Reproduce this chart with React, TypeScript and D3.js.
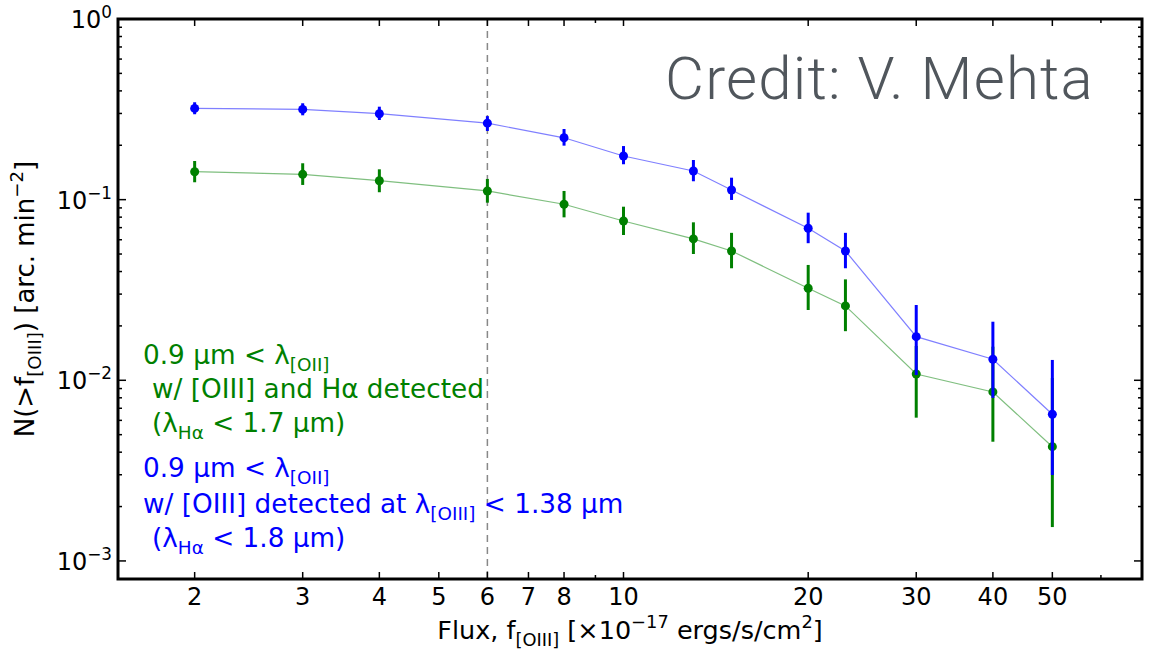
import React, { useEffect, useRef } from 'react';
import * as d3 from 'd3';

// flux bins (x 10^-17 ergs/s/cm^2)
const fluxBins = [2, 3, 4, 6, 8, 10, 13, 15, 20, 23, 30, 40, 50];

// blue: [OIII] detected at lambda < 1.38 um
const blueN = [0.320, 0.316, 0.299, 0.265, 0.220, 0.1745, 0.144, 0.1131, 0.0694, 0.0520, 0.01744, 0.01308, 0.00649];
const blueHi = [0.346, 0.3416, 0.327, 0.290, 0.246, 0.198, 0.1658, 0.1323, 0.0847, 0.0655, 0.0261, 0.0211, 0.01296];
const blueLo = [0.297, 0.293, 0.276, 0.240, 0.199, 0.157, 0.1264, 0.0996, 0.0574, 0.0417, 0.0107, 0.00799, 0.00299];

// green: [OIII] and Halpha detected
const greenN = [0.1428, 0.1381, 0.1273, 0.1117, 0.0943, 0.0762, 0.0606, 0.0520, 0.0323, 0.0258, 0.01084, 0.00862, 0.00429];
const greenHi = [0.1637, 0.159, 0.1472, 0.1302, 0.1117, 0.0914, 0.0749, 0.0655, 0.0435, 0.0362, 0.0155, 0.01535, 0.0103];
const greenLo = [0.1248, 0.1206, 0.1099, 0.0962, 0.0798, 0.0637, 0.0500, 0.0417, 0.0245, 0.0187, 0.00621, 0.00457, 0.00154];

const xTickLabels = [2, 3, 4, 5, 6, 7, 8, 10, 20, 30, 40, 50];
const xMinorTicks = [9, 60];
const yDecades = [-3, -2, -1, 0];
const cutFlux = 6;

const FONT = "'DejaVu Sans', sans-serif";
const LABEL_SIZE = 25.5;
const NOTE_SIZE = 26.3;

type Part = { t: string; s?: 'sub' | 'sup' };

// text with sub/superscripts as tspans
function addRich(text: any, parts: Part[], size: number) {
  let off = 0;
  parts.forEach(p => {
    const target = p.s === 'sub' ? size * 0.28 : p.s === 'sup' ? -size * 0.42 : 0;
    text.append('tspan')
      .attr('dy', target - off)
      .attr('font-size', p.s ? size * 0.7 : size)
      .text(p.t);
    off = target;
  });
}

const App = () => {
  const svgRef = useRef<SVGSVGElement>(null);

  useEffect(() => {
    const svg = d3.select(svgRef.current);
    svg.selectAll('*').remove();

    const left = 118, right = 1142, top = 19, bottom = 579;
    const x = d3.scaleLog().domain([1.5, 70]).range([left, right]);
    const y = d3.scaleLog().domain([Math.pow(10, -3.1), 1]).range([bottom, top]);

    svg.append('rect').attr('width', 1149).attr('height', 656).attr('fill', '#fff');

    // dashed cut line
    svg.append('line')
      .attr('x1', x(cutFlux)).attr('x2', x(cutFlux))
      .attr('y1', top).attr('y2', bottom)
      .attr('stroke', '#888').attr('stroke-width', 1.5)
      .attr('stroke-dasharray', '7,5');

    function drawSeries(vals: number[], lo: number[], hi: number[], color: string) {
      const g = svg.append('g');
      const line = d3.line<number>().x((d, i) => x(fluxBins[i])).y(d => y(d));
      g.append('path').attr('d', line(vals))
        .attr('fill', 'none').attr('stroke', color)
        .attr('stroke-opacity', 0.5).attr('stroke-width', 1.2);
      g.selectAll('line.err').data(vals).enter().append('line')
        .attr('x1', (d, i) => x(fluxBins[i])).attr('x2', (d, i) => x(fluxBins[i]))
        .attr('y1', (d, i) => y(lo[i])).attr('y2', (d, i) => y(hi[i]))
        .attr('stroke', color).attr('stroke-width', 3);
      g.selectAll('circle').data(vals).enter().append('circle')
        .attr('cx', (d, i) => x(fluxBins[i])).attr('cy', d => y(d))
        .attr('r', 4.5).attr('fill', color);
    }
    drawSeries(greenN, greenLo, greenHi, '#008000');
    drawSeries(blueN, blueLo, blueHi, '#0000ff');

    // frame
    svg.append('rect')
      .attr('x', left).attr('y', top)
      .attr('width', right - left).attr('height', bottom - top)
      .attr('fill', 'none').attr('stroke', '#000').attr('stroke-width', 3);

    const ticks = svg.append('g').attr('stroke', '#000').attr('stroke-width', 1.5);
    // x ticks, inward on bottom and top
    xTickLabels.concat(xMinorTicks).forEach(v => {
      const len = xMinorTicks.includes(v) ? 4 : 7;
      ticks.append('line').attr('x1', x(v)).attr('x2', x(v)).attr('y1', bottom).attr('y2', bottom - len);
      ticks.append('line').attr('x1', x(v)).attr('x2', x(v)).attr('y1', top).attr('y2', top + len);
    });
    // y ticks, inward on left and right
    const [y0, y1] = y.domain();
    yDecades.forEach(e => {
      for (let m = 1; m <= 9; m++) {
        const v = m * Math.pow(10, e);
        if (v < y0 || v > y1) continue;
        const len = m === 1 ? 8 : 4;
        ticks.append('line').attr('x1', left).attr('x2', left + len).attr('y1', y(v)).attr('y2', y(v));
        ticks.append('line').attr('x1', right).attr('x2', right - len).attr('y1', y(v)).attr('y2', y(v));
      }
    });

    // tick labels
    xTickLabels.forEach(v => {
      svg.append('text')
        .attr('x', x(v)).attr('y', 605)
        .attr('text-anchor', 'middle')
        .attr('font-family', FONT).attr('font-size', 24)
        .text(v);
    });
    yDecades.forEach(e => {
      const t = svg.append('text')
        .attr('x', 112).attr('y', y(Math.pow(10, e)) + 9)
        .attr('text-anchor', 'end')
        .attr('font-family', FONT)
        .style('white-space', 'pre');
      addRich(t, [{ t: '10' }, { t: e === 0 ? '0' : '\u2212' + (-e), s: 'sup' }], 24);
    });

    // axis labels
    const xl = svg.append('text')
      .attr('x', (left + right) / 2).attr('y', 639)
      .attr('text-anchor', 'middle').attr('font-family', FONT)
      .style('white-space', 'pre');
    addRich(xl, [
      { t: 'Flux, f' }, { t: '[OIII]', s: 'sub' }, { t: ' [\u00d710' }, { t: '\u221217', s: 'sup' },
      { t: ' ergs/s/cm' }, { t: '2', s: 'sup' }, { t: ']' }
    ], LABEL_SIZE);

    const yl = svg.append('text')
      .attr('transform', `translate(34,${(top + bottom) / 2}) rotate(-90)`)
      .attr('text-anchor', 'middle').attr('font-family', FONT)
      .style('white-space', 'pre');
    addRich(yl, [
      { t: 'N(>f' }, { t: '[OIII]', s: 'sub' }, { t: ') [arc. min' }, { t: '\u22122', s: 'sup' }, { t: ']' }
    ], 26);

    // annotations
    const notes: { x: number; y: number; color: string; parts: Part[] }[] = [
      { x: 143, y: 364, color: '#008000', parts: [{ t: '0.9 \u03bcm < \u03bb' }, { t: '[OII]', s: 'sub' }] },
      { x: 152, y: 398, color: '#008000', parts: [{ t: 'w/ [OIII] and H\u03b1 detected' }] },
      { x: 152, y: 432, color: '#008000', parts: [{ t: '(\u03bb' }, { t: 'H\u03b1', s: 'sub' }, { t: ' < 1.7 \u03bcm)' }] },
      { x: 143, y: 477, color: '#0000ff', parts: [{ t: '0.9 \u03bcm < \u03bb' }, { t: '[OII]', s: 'sub' }] },
      { x: 143, y: 513, color: '#0000ff', parts: [{ t: 'w/ [OIII] detected at \u03bb' }, { t: '[OIII]', s: 'sub' }, { t: ' < 1.38 \u03bcm' }] },
      { x: 152, y: 547, color: '#0000ff', parts: [{ t: '(\u03bb' }, { t: 'H\u03b1', s: 'sub' }, { t: ' < 1.8 \u03bcm)' }] },
    ];
    notes.forEach(n => {
      const t = svg.append('text')
        .attr('x', n.x).attr('y', n.y)
        .attr('font-family', FONT).attr('fill', n.color)
        .style('white-space', 'pre');
      addRich(t, n.parts, NOTE_SIZE);
    });

    // credit
    svg.append('text')
      .attr('x', 1094).attr('y', 99)
      .attr('text-anchor', 'end')
      .attr('font-family', "Roboto, 'Liberation Sans', sans-serif")
      .attr('font-weight', 300)
      .attr('font-size', 60)
      .attr('letter-spacing', 1.2)
      .attr('fill', '#50565c')
      .text('Credit: V. Mehta');
  }, []);

  return (
    <svg ref={svgRef} width={1149} height={656}
      style={{ position: 'absolute', left: 0, top: 0 }} />
  );
};

export default App;
